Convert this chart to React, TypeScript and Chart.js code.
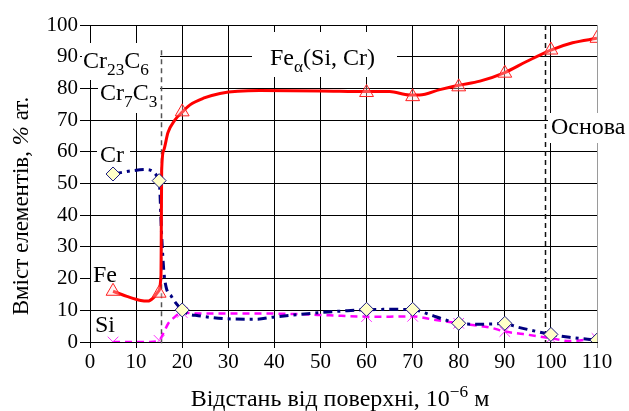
import React, { useEffect, useRef } from "react";
import { Chart, registerables } from "chart.js";
Chart.register(...registerables);

// Marker positions (distance, 10^-6 m) and values (% at.)
const markerX = [5, 15, 20, 60, 70, 80, 90, 100, 110];
const feMarkers = [16, 15.4, 72.6, 78.7, 77.4, 80.5, 84.8, 92.1, 95.8];
const crMarkers = [53, 50.9, 10.1, 10.3, 10.3, 5.9, 5.9, 2.4, 0.6];
const siMarkers = [0, 0.5, 9.3, 8, 8.1, 5.9, 3.3, 1.2, 1.1];

// Smoothed profile lines
const feLineX = [5, 8, 11, 12.5, 13.8, 14.8, 15.4, 15.45, 15.55, 16.0, 16.9, 18.4, 20, 21.7, 24.6, 28.2, 36.8, 50, 60, 65, 69.3, 71.5, 75.9, 80, 84.6, 90, 94.6, 100, 104.7, 110];
const feLineY = [16, 14.4, 13.1, 12.9, 14, 15.9, 21, 30, 54, 60.5, 66, 70, 72.5, 74.8, 76.9, 78.4, 79.3, 79.2, 79, 79, 77.9, 77.9, 79.6, 81, 82.3, 85, 88.4, 92.1, 94.4, 95.8];

const crLineX = [5, 9, 12, 15, 15.5, 16, 16.5, 17.7, 18.4, 20, 21, 23.5, 30, 36, 40, 50, 55, 60, 65, 70, 74, 76.6, 80, 84, 90, 92.5, 97, 100, 104, 110];
const crLineY = [53, 54, 54.4, 50.9, 35, 22.7, 17.4, 14.3, 12.7, 10.1, 9, 8.3, 7.3, 7.2, 7.9, 9.3, 9.8, 10.2, 10.3, 10.2, 8.5, 7.2, 5.9, 5.6, 5.8, 4.8, 3.3, 2.4, 1.5, 0.6];

const siLineX = [5, 10, 13, 15, 16, 17, 17.7, 20, 23, 30, 37, 45, 52, 60, 65, 70, 74, 80, 87, 90, 94, 100, 104, 110];
const siLineY = [0, 0, 0, 0.5, 3, 5.9, 7, 9.3, 9, 9, 9, 8.8, 8.4, 8, 8, 8.1, 7.2, 5.9, 4.5, 3.3, 2.5, 1.2, 0.3, 1.1];

// Phase boundaries (distance)
const boundaries = [15.5, 98.7];

const FONT = '"Liberation Serif", "Times New Roman", serif';

type Part = [string, "n" | "sub" | "sup" | "i"];

function partFont(kind: string, size: number) {
  const fs = kind === "sub" || kind === "sup" ? size * 0.72 : size;
  return `${kind === "i" ? "italic " : ""}${fs}px ${FONT}`;
}
function richWidth(ctx: CanvasRenderingContext2D, parts: Part[], size: number) {
  let w = 0;
  for (const [t, k] of parts) {
    ctx.font = partFont(k, size);
    w += ctx.measureText(t).width;
  }
  return w;
}
function drawRich(ctx: CanvasRenderingContext2D, x: number, y: number, parts: Part[], size: number) {
  let cx = x;
  ctx.textBaseline = "alphabetic";
  ctx.textAlign = "left";
  for (const [t, k] of parts) {
    ctx.font = partFont(k, size);
    const dy = k === "sub" ? size * 0.3 : k === "sup" ? -size * 0.38 : 0;
    ctx.fillText(t, cx, y + dy);
    cx += ctx.measureText(t).width;
  }
}

const labelBoxes = [
  [82, 43, 78, 37],
  [98, 80, 62, 33],
  [252, 32, 145, 45],
  [548, 113, 81, 30],
  [97, 143, 33, 25],
  [91, 262, 39, 24],
];

const labels: { x: number; y: number; parts: Part[] }[] = [
  { x: 83, y: 68, parts: [["Cr", "n"], ["23", "sub"], ["C", "n"], ["6", "sub"]] },
  { x: 100, y: 100, parts: [["Cr", "n"], ["7", "sub"], ["C", "n"], ["3", "sub"]] },
  { x: 270, y: 65, parts: [["Fe", "n"], ["α", "sub"], ["(Si, Cr)", "n"]] },
  { x: 551, y: 134, parts: [["Основа", "n"]] },
  { x: 100, y: 162, parts: [["Cr", "n"]] },
  { x: 93, y: 282, parts: [["Fe", "n"]] },
  { x: 95, y: 332, parts: [["Si", "n"]] },
];

const annotPlugin = {
  id: "annot",
  beforeDatasetsDraw(chart: any) {
    const ctx = chart.ctx as CanvasRenderingContext2D;
    const xs = chart.scales.x;
    const ys = chart.scales.y;
    ctx.save();
    ctx.fillStyle = "#ffffff";
    for (const [x, y, w, h] of labelBoxes) ctx.fillRect(x, y, w, h);
    ctx.lineWidth = 1.5;
    ctx.setLineDash([5, 4]);
    boundaries.forEach((b, i) => {
      const px = Math.round(xs.getPixelForValue(b)) + 0.5;
      ctx.strokeStyle = i === 0 ? "#555555" : "#111111";
      ctx.beginPath();
      ctx.moveTo(px, i === 0 ? ys.getPixelForValue(92) : ys.top);
      ctx.lineTo(px, i === 0 ? ys.bottom + 4 : ys.bottom);
      ctx.stroke();
    });
    ctx.restore();
  },
  afterDatasetsDraw(chart: any) {
    const ctx = chart.ctx as CanvasRenderingContext2D;
    ctx.save();
    ctx.fillStyle = "#000";
    for (const l of labels) drawRich(ctx, l.x, l.y, l.parts, 24);
    // x title
    const xt: Part[] = [["Відстань від поверхні, 10", "n"], ["−6", "sup"], [" м", "n"]];
    const w = richWidth(ctx, xt, 24);
    drawRich(ctx, 340 - w / 2, 406, xt, 24);
    // y title
    const yt: Part[] = [["Вміст елементів, ", "n"], ["%", "i"], [" ат.", "n"]];
    const wy = richWidth(ctx, yt, 23);
    ctx.translate(28, 206);
    ctx.rotate(-Math.PI / 2);
    drawRich(ctx, -wy / 2, 0, yt, 23);
    ctx.restore();
  },
};

function pts(xs: number[], ys: number[]) {
  return xs.map((x, i) => ({ x, y: ys[i] }));
}

export default function App() {
  const ref = useRef<HTMLCanvasElement>(null);
  useEffect(() => {
    document.body.style.margin = "0";
    const ctx = ref.current!.getContext("2d")!;
    const tickFont = { family: FONT, size: 21 };
    const chart = new Chart(ctx, {
      type: "scatter",
      data: {
        datasets: [
          {
            data: pts(markerX, feMarkers),
            showLine: false,
            pointStyle: "triangle",
            pointRadius: 8,
            pointBorderColor: "#ff2020",
            pointBackgroundColor: "rgba(255,220,220,0.35)",
            pointBorderWidth: 1,
          },
          {
            data: pts(markerX, crMarkers),
            showLine: false,
            pointStyle: "rectRot",
            pointRadius: 7,
            pointBorderColor: "#1a1a80",
            pointBackgroundColor: "#ffffc8",
            pointBorderWidth: 1,
          },
          {
            data: pts(markerX, siMarkers),
            showLine: false,
            pointStyle: "crossRot",
            pointRadius: 7.5,
            pointBorderColor: "#ff33ff",
            pointBorderWidth: 1,
          },
          {
            data: pts(feLineX, feLineY),
            showLine: true,
            borderColor: "#ff0000",
            borderWidth: 3,
            pointRadius: 0,
            cubicInterpolationMode: "monotone",
          },
          {
            data: pts(crLineX, crLineY),
            showLine: true,
            borderColor: "#000080",
            borderWidth: 3,
            borderDash: [9, 5, 3, 5],
            pointRadius: 0,
            cubicInterpolationMode: "monotone",
          },
          {
            data: pts(siLineX, siLineY),
            showLine: true,
            borderColor: "#ff00ff",
            borderWidth: 2.5,
            borderDash: [7, 5],
            pointRadius: 0,
            cubicInterpolationMode: "monotone",
          },
        ] as any,
      },
      options: {
        animation: false,
        responsive: false,
        devicePixelRatio: 1,
        layout: { padding: { top: 25, right: 32, left: 0, bottom: 0 } },
        plugins: { legend: { display: false }, tooltip: { enabled: false } },
        scales: {
          x: {
            type: "linear",
            min: 0,
            max: 110,
            ticks: { stepSize: 10, font: tickFont, color: "#000", padding: 2, maxRotation: 0 },
            grid: {
              color: (c: any) => (c.tick && c.tick.value === 110 ? "#9a9a9a" : "#000"),
              tickLength: 6,
              lineWidth: 1,
            },
            border: { color: "#000", width: 1 },
            afterFit: (s: any) => {
              s.height = 69;
            },
          },
          y: {
            type: "linear",
            min: 0,
            max: 100,
            ticks: { stepSize: 10, font: tickFont, color: "#000", padding: 2 },
            grid: { color: "#000", tickLength: 10, lineWidth: 1 },
            border: { color: "#000", width: 1 },
            afterFit: (s: any) => {
              s.width = 90;
            },
          },
        },
      },
      plugins: [annotPlugin],
    });
    return () => chart.destroy();
  }, []);
  return (
    <div style={{ width: 629, height: 411, background: "#fff" }}>
      <canvas ref={ref} width={629} height={411} style={{ display: "block" }} />
    </div>
  );
}
